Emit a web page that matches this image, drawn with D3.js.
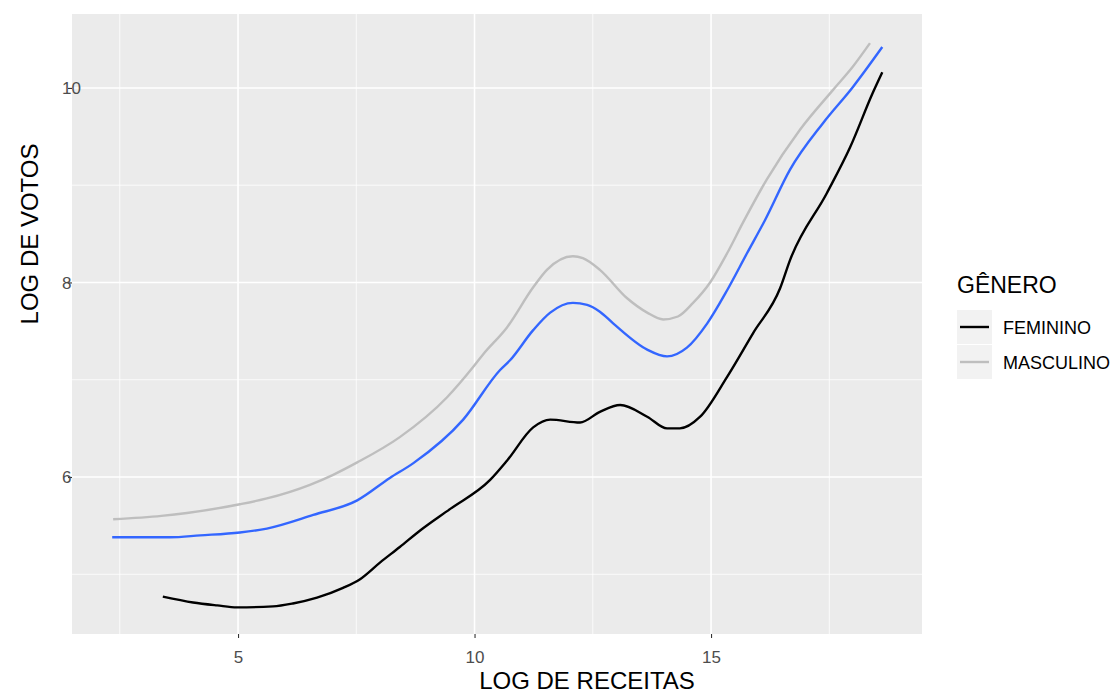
<!DOCTYPE html>
<html><head><meta charset="utf-8">
<script src="https://cdn.jsdelivr.net/npm/d3@7/dist/d3.min.js"></script>
<style>body{margin:0;background:#fff}svg{display:block;font-family:"Liberation Sans",Arial,sans-serif}</style>
</head><body><svg id="c" width="1114" height="693"></svg>
<script>
const xTicks = [5, 10, 15];
const yTicks = [6, 8, 10];
const xMinor = [2.5, 7.5, 12.5, 17.5];
const yMinor = [5, 7, 9];
const legendTitle = "GÊNERO";
const legendLabels = ["FEMININO", "MASCULINO"];
const xTitle = "LOG DE RECEITAS";
const yTitle = "LOG DE VOTOS";

const femX = [3.41,4.05,4.56,4.98,5.74,6.16,6.67,7.22,7.58,8.0,8.42,8.85,9.48,10.33,10.69,11.24,11.6,12.23,12.65,13.08,13.65,14.07,14.34,14.77,15.34,15.89,16.46,16.67,17.45,17.94,18.42,18.62];
const femY = [4.77,4.71,4.68,4.66,4.67,4.70,4.76,4.86,4.95,5.12,5.28,5.45,5.67,5.97,6.17,6.51,6.59,6.56,6.67,6.74,6.62,6.50,6.50,6.62,7.03,7.48,7.94,8.23,8.92,9.39,9.95,10.16];
const mascX = [2.36,3.38,3.92,5.04,5.61,6.52,7.0,7.52,8.42,9.42,9.97,10.18,10.69,11.24,11.53,12.08,12.29,12.65,13.22,13.65,13.99,14.30,14.62,14.98,15.34,15.68,16.18,16.88,17.58,18.0,18.36];
const mascY = [5.565,5.60,5.63,5.72,5.78,5.92,6.02,6.15,6.41,6.82,7.13,7.26,7.54,7.95,8.13,8.27,8.25,8.13,7.84,7.69,7.62,7.65,7.79,8.0,8.30,8.62,9.06,9.57,9.98,10.22,10.46];
const allX = [2.34,3.56,4.2,5.04,5.61,6.59,7.52,8.21,8.70,9.76,10.54,10.75,11.24,11.60,12.08,12.38,12.65,12.93,13.65,14.07,14.49,14.92,15.34,15.76,16.14,16.67,17.37,18.0,18.62];
const allY = [5.38,5.38,5.40,5.43,5.47,5.61,5.76,5.99,6.14,6.59,7.10,7.20,7.51,7.69,7.79,7.77,7.70,7.58,7.31,7.24,7.33,7.58,7.92,8.30,8.64,9.16,9.64,10.01,10.42];

const svg = d3.select("#c");
const L = 72, R = 922, T = 14, B = 634;
const x = d3.scaleLinear().domain([1.49, 19.46]).range([L, R]);
const y = d3.scaleLinear().domain([4.386, 10.76]).range([B, T]);

svg.append("rect").attr("x", L).attr("y", T).attr("width", R - L).attr("height", B - T).attr("fill", "#ebebeb");
const g = svg.append("g");
xMinor.forEach(v => g.append("line").attr("x1", x(v)).attr("x2", x(v)).attr("y1", T).attr("y2", B).attr("stroke", "#fff").attr("stroke-width", 0.8));
yMinor.forEach(v => g.append("line").attr("y1", y(v)).attr("y2", y(v)).attr("x1", L).attr("x2", R).attr("stroke", "#fff").attr("stroke-width", 0.8));
xTicks.forEach(v => g.append("line").attr("x1", x(v)).attr("x2", x(v)).attr("y1", T).attr("y2", B).attr("stroke", "#fff").attr("stroke-width", 1.6));
yTicks.forEach(v => g.append("line").attr("y1", y(v)).attr("y2", y(v)).attr("x1", L).attr("x2", R).attr("stroke", "#fff").attr("stroke-width", 1.6));

// x axis
const xa = svg.append("g").attr("transform", `translate(0,${B})`)
  .call(d3.axisBottom(x).tickValues(xTicks).tickSize(4).tickPadding(13).tickFormat(d3.format("d")));
xa.select(".domain").remove();
xa.selectAll("line").attr("stroke", "#333").attr("stroke-width", 1.1);
xa.selectAll("text").attr("fill", "#4d4d4d").style("font-size", "17px");

// y axis
const ya = svg.append("g").attr("transform", `translate(${L},0)`)
  .call(d3.axisLeft(y).tickValues(yTicks).tickSize(4).tickFormat(d3.format("d")));
ya.select(".domain").remove();
ya.selectAll("line").attr("stroke", "#333").attr("stroke-width", 1.1);
ya.selectAll("text").attr("fill", "#4d4d4d").style("font-size", "17px")
  .attr("text-anchor", "start").attr("x", 62 - L).attr("dy", "0.35em");

const line = d3.line().curve(d3.curveMonotoneX).x(d => x(d[0])).y(d => y(d[1]));
const series = [
  {xs: mascX, ys: mascY, c: "#bebebe"},
  {xs: allX, ys: allY, c: "#3366ff"},
  {xs: femX, ys: femY, c: "#000000"}
];
series.forEach(s => {
  svg.append("path").datum(s.xs.map((v, i) => [v, s.ys[i]]))
    .attr("d", line).attr("fill", "none").attr("stroke", s.c).attr("stroke-width", 2.4)
    .attr("stroke-linejoin", "round");
});

// axis titles
svg.append("text").attr("x", 587).attr("y", 689).attr("text-anchor", "middle")
  .style("font-size", "24px").attr("fill", "#000").text(xTitle);
svg.append("text").attr("transform", "translate(38,234) rotate(-90)").attr("text-anchor", "middle")
  .style("font-size", "24px").attr("fill", "#000").text(yTitle);

// legend
svg.append("text").attr("x", 957).attr("y", 293).style("font-size", "23px").attr("fill", "#000").text(legendTitle);
const lc = ["#000000", "#bebebe"];
legendLabels.forEach((lab, i) => {
  const cy = 327 + i * 35;
  svg.append("rect").attr("x", 957).attr("y", cy - 17).attr("width", 35).attr("height", 34).attr("fill", "#f2f2f2");
  svg.append("line").attr("x1", 960).attr("x2", 989).attr("y1", cy).attr("y2", cy).attr("stroke", lc[i]).attr("stroke-width", 2.4);
  svg.append("text").attr("x", 1003).attr("y", cy + 6.5).style("font-size", "18px").attr("fill", "#000").text(lab);
});
</script></body></html>
